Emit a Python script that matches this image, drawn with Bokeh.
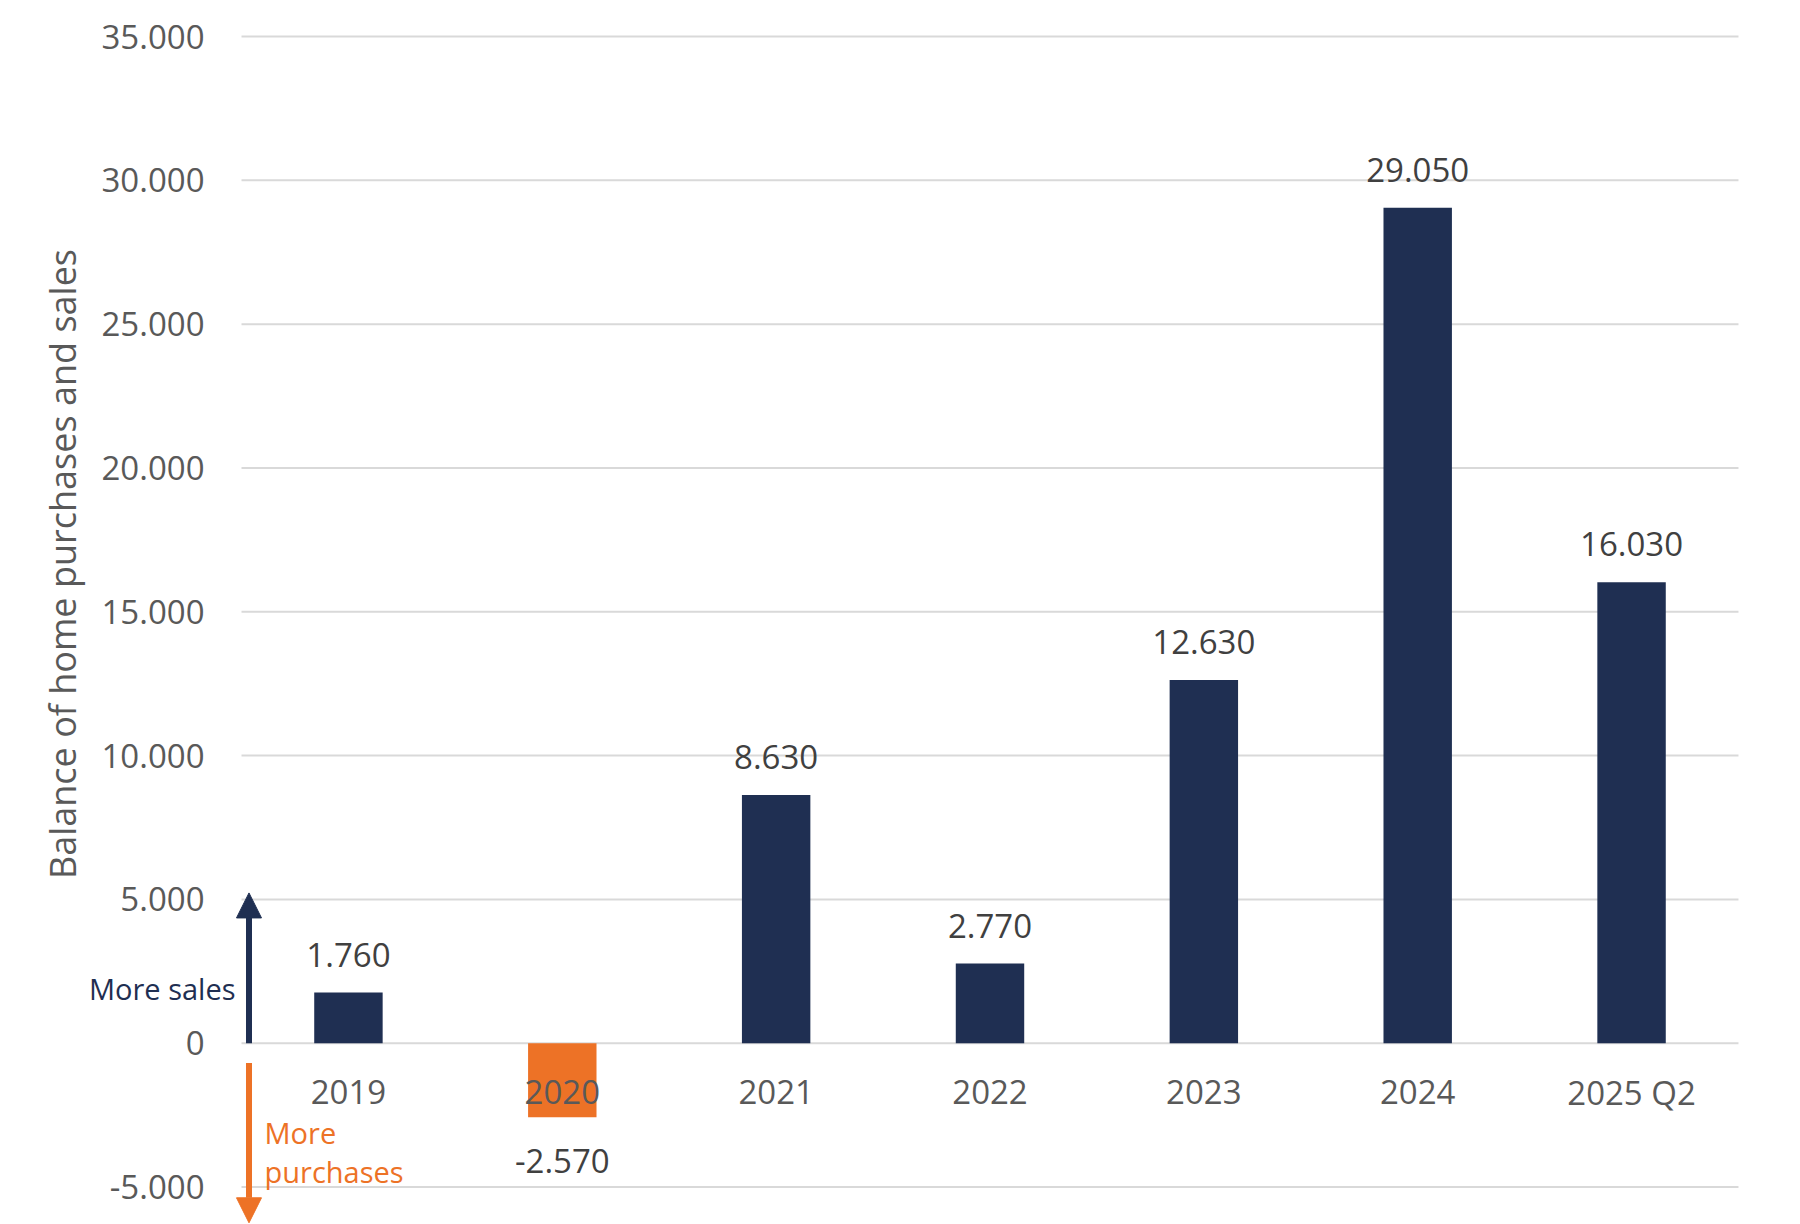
from bokeh.plotting import figure
from bokeh.models import (Range1d, FixedTicker, Label, Arrow,
                          NormalHead, ColumnDataSource)
from bokeh.core.properties import value
from bokeh.embed import file_html
from bokeh.resources import INLINE

# ---------------- data ----------------
categories = ["2019", "2020", "2021", "2022", "2023", "2024", "2025 Q2"]
balance = [1760, -2570, 8630, 2770, 12630, 29050, 16030]
y_ticks = [-5000, 0, 5000, 10000, 15000, 20000, 25000, 30000, 35000]
y_title = "Balance of home purchases and sales"
note_sales = "More sales"
note_purchases = ["More", "purchases"]

# ---------------- style ----------------
NAVY = "#1F2F52"
ORANGE = "#ED7226"
FONT = "Open Sans"
GRID = "#D9D9D9"
TICK_TXT = "#595959"
LABEL_TXT = "#404040"
FS = "33px"


def fmt(v):
    return f"{v:,}".replace(",", ".")


n = len(categories)
xs = [i + 0.5 for i in range(n)]          # category slot centres
colors = [NAVY if v >= 0 else ORANGE for v in balance]
src = ColumnDataSource(dict(x=xs, cat=categories, val=balance, color=colors,
                            zero=[0] * n))
pos_src = ColumnDataSource(dict(
    x=[x for x, v in zip(xs, balance) if v >= 0],
    val=[v for v in balance if v >= 0],
    label=[fmt(v) for v in balance if v >= 0]))
neg_src = ColumnDataSource(dict(
    x=[x for x, v in zip(xs, balance) if v < 0],
    val=[v for v in balance if v < 0],
    label=[fmt(v) for v in balance if v < 0]))
grid_src = ColumnDataSource(dict(y=y_ticks, x0=[0] * len(y_ticks),
                                 x1=[n] * len(y_ticks)))

p = figure(x_range=Range1d(-1.127, n + 0.29),
           y_range=Range1d(-6303, 36252),
           width=1800, height=1224, output_backend="svg",
           toolbar_location=None, x_axis_location=None,
           min_border_left=0, min_border_right=0,
           min_border_top=0, min_border_bottom=0)
p.outline_line_color = None
p.background_fill_color = "white"
p.border_fill_color = "white"
p.xgrid.visible = False
p.ygrid.visible = False

# y axis drawn at the left edge of the category area
ax = p.yaxis[0]
ax.fixed_location = 0
ax.ticker = FixedTicker(ticks=y_ticks)
ax.major_label_overrides = {t: fmt(t) for t in y_ticks}
ax.axis_line_color = None
ax.major_tick_line_color = None
ax.minor_tick_line_color = None
ax.major_tick_out = 0
ax.major_tick_in = 0
ax.minor_tick_out = 0
ax.minor_tick_in = 0
ax.major_label_standoff = 37
ax.major_label_text_font = FONT
ax.major_label_text_font_size = FS
ax.major_label_text_color = TICK_TXT

# horizontal grid lines over the category area
p.segment(x0="x0", x1="x1", y0="y", y1="y", source=grid_src,
          line_color=GRID, line_width=2)

# bars
p.vbar(x="x", top="val", bottom=0, width=0.32, fill_color="color",
       line_color=None, source=src)

# value labels
p.text(x="x", y="val", text="label", source=pos_src, text_align="center",
       text_baseline="middle", y_offset=-38, text_font=value(FONT),
       text_font_size=FS, text_color=LABEL_TXT)
p.text(x="x", y="val", text="label", source=neg_src, text_align="center",
       text_baseline="middle", y_offset=44, text_font=value(FONT),
       text_font_size=FS, text_color=LABEL_TXT)

# category labels along the zero line (over the bars)
p.text(x="x", y="zero", text="cat", source=src, text_align="center",
       text_baseline="middle", y_offset=49, text_font=value(FONT),
       text_font_size=FS, text_color=TICK_TXT)

# y title
p.add_layout(Label(x=-0.837, y=16660, text=y_title, angle=90, angle_units="deg",
                   text_align="center", text_baseline="middle",
                   text_font=FONT, text_font_size="36px", text_color=TICK_TXT))

# arrows
p.add_layout(Arrow(x_start=0.035, y_start=0, x_end=0.035, y_end=5225,
                   line_color=NAVY, line_width=6,
                   end=NormalHead(size=25, fill_color=NAVY, line_color=NAVY,
                                  line_width=1)))
p.add_layout(Arrow(x_start=0.035, y_start=-690, x_end=0.035, y_end=-6244,
                   line_color=ORANGE, line_width=6,
                   end=NormalHead(size=25, fill_color=ORANGE, line_color=ORANGE,
                                  line_width=1)))

# arrow notes
p.add_layout(Label(x=0, y=1902, x_offset=-6, text=note_sales, text_align="right",
                   text_baseline="middle", text_font=FONT,
                   text_font_size="29px", text_color=NAVY))
p.add_layout(Label(x=0, y=-3105, x_offset=23, text=note_purchases[0],
                   text_align="left", text_baseline="middle", text_font=FONT,
                   text_font_size="29px", text_color=ORANGE))
p.add_layout(Label(x=0, y=-4454, x_offset=23, text=note_purchases[1],
                   text_align="left", text_baseline="middle", text_font=FONT,
                   text_font_size="29px", text_color=ORANGE))

open("out.html", "w").write(file_html(p, INLINE))
